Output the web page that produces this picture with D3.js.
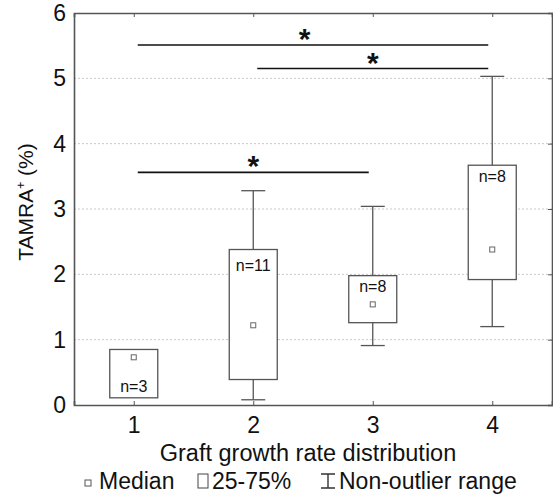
<html>
<head>
<script src="https://d3js.org/d3.v7.min.js"></script>
<style>
body { margin: 0; background: #fff; }
text { font-family: "Liberation Sans", Arial, sans-serif; fill: #111; }
</style>
</head>
<body>
<div id="chart"></div>
<script>
// values
var groups = [1, 2, 3, 4];
var medians = [0.73, 1.22, 1.54, 2.38];
var q1 = [0.11, 0.39, 1.26, 1.92];
var q3 = [0.85, 2.38, 1.98, 3.67];
var whiskerLow = [null, 0.08, 0.91, 1.20];
var whiskerHigh = [null, 3.28, 3.04, 5.03];
var nLabels = ["n=3", "n=11", "n=8", "n=8"];
var nLabelAt = [0.28, 2.14, 1.81, 3.50];
var sigFrom = [1, 2, 1];
var sigTo = [4, 4, 3];
var sigLevel = [5.51, 5.15, 3.56];
var sigStarAt = [2.43, 3, 2];
var yTicks = [0, 1, 2, 3, 4, 5, 6];

var W = 553, H = 503;
var margin = {top: 13, right: 1, bottom: 98, left: 74};
var width = W - margin.left - margin.right,
    height = H - margin.top - margin.bottom;

var svg = d3.select("#chart").append("svg")
  .attr("width", W).attr("height", H);
var g = svg.append("g")
  .attr("transform", "translate(" + margin.left + "," + margin.top + ")");

var x = d3.scaleLinear().domain([0.5, 4.5]).range([0, width]);
var y = d3.scaleLinear().domain([0, 6]).range([height, 0]);

// gridlines
g.selectAll(".grid").data(yTicks.slice(1, -1)).enter().append("line")
  .attr("x1", 0).attr("x2", width)
  .attr("y1", function(d) { return y(d); }).attr("y2", function(d) { return y(d); })
  .style("stroke", "#c8c8c8").style("stroke-width", 1)
  .style("stroke-dasharray", "2,2");

// axes
var frame = "#555";
var axLeft = g.append("g").call(d3.axisLeft(y).tickValues(yTicks).tickSize(0).tickPadding(8).tickFormat(d3.format("d")));
var axBottom = g.append("g").attr("transform", "translate(0," + height + ")")
  .call(d3.axisBottom(x).tickValues(groups).tickSize(-4).tickPadding(12).tickFormat(d3.format("d")));
var axTop = g.append("g").call(d3.axisTop(x).tickValues(groups).tickSize(-4).tickFormat(""));
var axRight = g.append("g").attr("transform", "translate(" + width + ",0)")
  .call(d3.axisRight(y).tickValues(yTicks).tickSize(-4).tickFormat(""));
[axLeft, axBottom, axTop, axRight].forEach(function(a) {
  a.select(".domain").style("stroke", frame).style("stroke-width", 1.6);
  a.selectAll(".tick line").style("stroke", frame);
  a.selectAll("text").style("font-size", "23px").style("fill", "#111")
    .style("font-family", "Liberation Sans, Arial, sans-serif");
});

// boxes
var boxW = 48, capW = 24, boxColor = "#555";
var data = groups.map(function(gr, i) {
  return {g: gr, med: medians[i], lo: q1[i], hi: q3[i], wl: whiskerLow[i], wh: whiskerHigh[i], n: nLabels[i], ny: nLabelAt[i]};
});
var box = g.selectAll(".box").data(data).enter().append("g");

box.filter(function(d) { return d.wl != null; }).each(function(d) {
  var s = d3.select(this);
  s.append("line").attr("x1", x(d.g)).attr("x2", x(d.g))
    .attr("y1", y(d.wh)).attr("y2", y(d.hi)).style("stroke", boxColor).style("stroke-width", 1.3);
  s.append("line").attr("x1", x(d.g)).attr("x2", x(d.g))
    .attr("y1", y(d.lo)).attr("y2", y(d.wl)).style("stroke", boxColor).style("stroke-width", 1.3);
  s.append("line").attr("x1", x(d.g) - capW / 2).attr("x2", x(d.g) + capW / 2)
    .attr("y1", y(d.wh)).attr("y2", y(d.wh)).style("stroke", boxColor).style("stroke-width", 1.3);
  s.append("line").attr("x1", x(d.g) - capW / 2).attr("x2", x(d.g) + capW / 2)
    .attr("y1", y(d.wl)).attr("y2", y(d.wl)).style("stroke", boxColor).style("stroke-width", 1.3);
});

box.append("rect")
  .attr("x", function(d) { return x(d.g) - boxW / 2; })
  .attr("y", function(d) { return y(d.hi); })
  .attr("width", boxW)
  .attr("height", function(d) { return y(d.lo) - y(d.hi); })
  .style("fill", "#fff").style("stroke", boxColor).style("stroke-width", 1.3);

box.append("rect")
  .attr("x", function(d) { return x(d.g) - 2.5; })
  .attr("y", function(d) { return y(d.med) - 2.5; })
  .attr("width", 5).attr("height", 5)
  .style("fill", "#fff").style("stroke", "#666").style("stroke-width", 1);

box.append("text")
  .attr("x", function(d) { return x(d.g); })
  .attr("y", function(d) { return y(d.ny); })
  .attr("dy", "0.35em")
  .attr("text-anchor", "middle")
  .style("font-size", "16px")
  .text(function(d) { return d.n; });

// significance bars
var sig = sigFrom.map(function(f, i) { return {f: f, t: sigTo[i], v: sigLevel[i], s: sigStarAt[i]}; });
var sg = g.selectAll(".sig").data(sig).enter().append("g");
sg.append("line")
  .attr("x1", function(d) { return x(d.f) + 4; })
  .attr("x2", function(d) { return x(d.t) - 4; })
  .attr("y1", function(d) { return y(d.v); })
  .attr("y2", function(d) { return y(d.v); })
  .style("stroke", "#111").style("stroke-width", 1.6);
sg.append("text")
  .attr("x", function(d) { return x(d.s); })
  .attr("y", function(d) { return y(d.v) + 4; })
  .attr("text-anchor", "middle")
  .style("font-size", "30px").style("font-weight", "bold")
  .text("*");

// axis titles
var yt = svg.append("text")
  .attr("transform", "translate(33,202) rotate(-90)")
  .attr("text-anchor", "middle")
  .style("font-size", "21px");
yt.append("tspan").text("TAMRA");
yt.append("tspan").attr("dy", "-8").style("font-size", "12px").text("+");
yt.append("tspan").attr("dy", "8").text(" (%)");

svg.append("text")
  .attr("x", 308).attr("y", 461)
  .attr("text-anchor", "middle")
  .style("font-size", "23.5px")
  .text("Graft growth rate distribution");

// legend
var lg = svg.append("g").attr("transform", "translate(0,489)");
lg.append("rect").attr("x", 85).attr("y", -9).attr("width", 6).attr("height", 6)
  .style("fill", "#fff").style("stroke", "#555");
lg.append("text").attr("x", 99).attr("y", 0).style("font-size", "23px").text("Median");
lg.append("rect").attr("x", 198).attr("y", -15).attr("width", 10).attr("height", 14)
  .style("fill", "#fff").style("stroke", "#444");
lg.append("text").attr("x", 212).attr("y", 0).style("font-size", "23px").text("25-75%");
lg.append("path").attr("d", "M321,-15H335M328,-15V-1M321,-1H335")
  .style("fill", "none").style("stroke", "#333").style("stroke-width", 1.4);
lg.append("text").attr("x", 339).attr("y", 0).style("font-size", "23px").text("Non-outlier range");
</script>
</body>
</html>
